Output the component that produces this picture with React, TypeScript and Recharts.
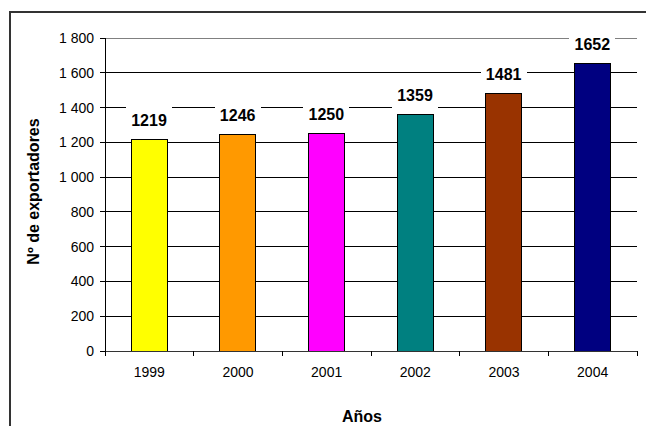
import React from "react";
import {
  BarChart,
  Bar,
  CartesianGrid,
  XAxis,
  YAxis,
  Cell,
  LabelList,
} from "recharts";

const years = ["1999", "2000", "2001", "2002", "2003", "2004"];
const exporters = [1219, 1246, 1250, 1359, 1481, 1652];
const barColors = ["#FFFF00", "#FF9900", "#FF00FF", "#008080", "#993300", "#000080"];
const yTicks = [0, 200, 400, 600, 800, 1000, 1200, 1400, 1600, 1800];

const data = years.map((year, i) => ({ year, value: exporters[i] }));

const FONT = "'Liberation Sans', Arial, sans-serif";
const W = 646;
const H = 426;
const PLOT_LEFT = 105;
const PLOT_RIGHT = 9;
const BAND = (W - PLOT_LEFT - PLOT_RIGHT) / years.length;

const fmt = (v: number) =>
  v >= 1000 ? `${Math.floor(v / 1000)} ${String(v % 1000).padStart(3, "0")}` : String(v);

// category label plus boundary tick marks like the Excel original
const XTick = (props: any) => {
  const { x, y, payload, index } = props;
  const left = x - BAND / 2;
  return (
    <g>
      <line x1={left} x2={left} y1={y} y2={y + 5} stroke="#000" />
      {index === years.length - 1 && (
        <line x1={x + BAND / 2} x2={x + BAND / 2} y1={y} y2={y + 5} stroke="#000" />
      )}
      <text
        x={x}
        y={y + 21}
        textAnchor="middle"
        dominantBaseline="central"
        fontSize={14}
        fontFamily={FONT}
        fill="#000"
      >
        {payload.value}
      </text>
    </g>
  );
};

const ValueLabel = (props: any) => {
  const { x, y, width, value } = props;
  const cx = x + width / 2;
  const cy = y - 19;
  return (
    <g>
      <rect x={cx - 23} y={cy - 14} width={46} height={28} fill="#fff" />
      <text
        x={cx}
        y={cy}
        textAnchor="middle"
        dominantBaseline="central"
        fontSize={16}
        fontWeight="bold"
        fontFamily={FONT}
        fill="#000"
      >
        {value}
      </text>
    </g>
  );
};

export default function App() {
  return (
    <div style={{ position: "absolute", left: 0, top: 0, width: W, height: H, background: "#fff" }}>
      <div
        style={{
          position: "absolute",
          left: 9,
          top: 11,
          width: W,
          height: H,
          borderTop: "2px solid #333",
          borderLeft: "2px solid #333",
        }}
      />
      <div style={{ position: "absolute", left: 0, top: 0 }}>
        <BarChart
          width={W}
          height={H}
          data={data}
          margin={{ top: 38, right: PLOT_RIGHT, bottom: 0, left: 0 }}
          barSize={36}
          style={{ shapeRendering: "crispEdges" }}
        >
          <CartesianGrid vertical={false} stroke="#000" horizontalValues={[200, 400, 600, 800, 1000, 1200, 1400, 1600]} />
          <CartesianGrid vertical={false} stroke="#808080" horizontalValues={[1800]} />
          <XAxis
            dataKey="year"
            height={75}
            axisLine={{ stroke: "#333" }}
            tickLine={false}
            tickSize={0}
            tickMargin={0}
            tick={<XTick />}
            interval={0}
            label={{
              content: (p: any) => {
                const vb = p.viewBox;
                return (
                  <text
                    x={vb.x + vb.width / 2 - 9}
                    y={416}
                    textAnchor="middle"
                    dominantBaseline="central"
                    fontSize={16}
                    fontWeight="bold"
                    fontFamily={FONT}
                    fill="#000"
                  >
                    Años
                  </text>
                );
              },
            }}
          />
          <YAxis
            width={PLOT_LEFT}
            domain={[0, 1800]}
            ticks={yTicks}
            interval={0}
            tickFormatter={fmt}
            axisLine={{ stroke: "#000" }}
            tickLine={{ stroke: "#000" }}
            tickSize={5}
            tickMargin={6}
            tick={{ fontSize: 14, fontFamily: FONT, fill: "#000" }}
            label={{
              content: (p: any) => {
                const vb = p.viewBox;
                const cx = 33;
                const cy = vb.y + vb.height / 2 - 3;
                return (
                  <text
                    x={cx}
                    y={cy}
                    transform={`rotate(-90, ${cx}, ${cy})`}
                    textAnchor="middle"
                    dominantBaseline="central"
                    fontSize={16}
                    fontWeight="bold"
                    fontFamily={FONT}
                    fill="#000"
                  >
                    Nº de exportadores
                  </text>
                );
              },
            }}
          />
          <YAxis
            yAxisId="frame"
            orientation="right"
            width={0}
            domain={[0, 1800]}
            tick={false}
            tickLine={false}
            axisLine={{ stroke: "#808080" }}
          />
          <Bar dataKey="value" stroke="#000" strokeWidth={1} isAnimationActive={false}>
            {data.map((d, i) => (
              <Cell key={d.year} fill={barColors[i]} />
            ))}
            <LabelList dataKey="value" content={<ValueLabel />} />
          </Bar>
        </BarChart>
      </div>
    </div>
  );
}
